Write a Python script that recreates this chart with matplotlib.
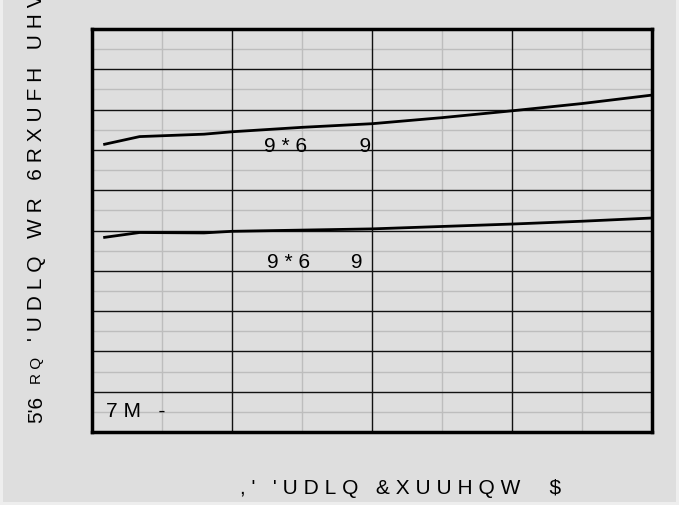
import matplotlib
matplotlib.use("Agg")
import matplotlib.pyplot as plt
from matplotlib.patches import Rectangle

# datos (eje x: 0..4, eje y: 0..10 divisiones)
x_curva = [0.09, 0.34, 0.8, 1.0, 1.5, 2.0, 2.5, 3.0, 3.5, 4.0]
y_superior = [7.14, 7.33, 7.39, 7.45, 7.56, 7.65, 7.80, 7.97, 8.15, 8.36]
y_inferior = [4.83, 4.95, 4.94, 4.98, 5.01, 5.04, 5.10, 5.16, 5.23, 5.31]

etiqueta_x = ",' 'UDLQ &XUUHQW  $"
etiqueta_y = ["5'6", "RQ", "'UDLQ WR 6RXUFH UHV"]
texto_sup = "9*6    9"
texto_inf = "9*6   9"
texto_tj = "7M -"

FONDO = "#dedede"
TRACK = "\u2009\u200a"   # espaciado entre letras
FAM = ["Liberation Sans", "DejaVu Sans"]


def espaciado(s):
    return TRACK.join(s)


W, H = 679, 506
fig = plt.figure(figsize=(W / 100, H / 100), dpi=100)
fig.patch.set_facecolor("#eeeeee")
fig.patches.append(Rectangle((3 / W, 3 / H), 673 / W, 503 / H, transform=fig.transFigure,
                             facecolor=FONDO, edgecolor="none", zorder=-5))

ax = fig.add_axes([92 / W, (H - 433) / H, 560 / W, 403 / H])
ax.set_zorder(2)
ax.set_facecolor(FONDO)
ax.set_xlim(0, 4)
ax.set_ylim(0, 10)

# grilla
for i in range(1, 4):
    ax.axvline(i, color="#111111", lw=1.0, zorder=2)
for i in range(4):
    ax.axvline(i + 0.5, color="#bdbdbd", lw=1.0, zorder=1)
for j in range(1, 10):
    ax.axhline(j, color="#111111", lw=1.0, zorder=2)
for j in range(10):
    ax.axhline(j + 0.5, color="#bdbdbd", lw=1.0, zorder=1)

ax.plot(x_curva, y_superior, color="black", lw=2.0, zorder=3)
ax.plot(x_curva, y_inferior, color="black", lw=2.0, zorder=3)

ax.set_xticks([])
ax.set_yticks([])
for s in ax.spines.values():
    s.set_linewidth(2.5)
    s.set_color("black")
    s.set_zorder(4)


def px(xp, yp):
    # pixeles de la imagen -> fraccion de la figura
    return xp / W, (H - yp) / H


def d(xp, yp):
    # pixeles de la imagen -> datos
    return (xp - 92) / 140, (432.7 - yp) / 40.3


fs = 15
ax.text(*d(264, 152), espaciado(texto_sup), fontsize=fs, family=FAM, va="baseline", ha="left", zorder=5)
ax.text(*d(267, 268), espaciado(texto_inf), fontsize=fs, family=FAM, va="baseline", ha="left", zorder=5)
ax.text(*d(106, 417), espaciado(texto_tj), fontsize=fs, family=FAM, va="baseline", ha="left", zorder=5)

fig.text(*px(240, 494), espaciado(etiqueta_x), fontsize=fs, family=FAM, va="baseline", ha="left")

kw = dict(rotation=90, rotation_mode="anchor", ha="left", va="baseline", family=FAM)
fig.text(*px(42, 423), etiqueta_y[0], fontsize=fs, **kw)
fig.text(*px(41, 384), espaciado(etiqueta_y[1]), fontsize=11, **kw)
fig.text(*px(42, 341.5), espaciado(etiqueta_y[2]), fontsize=fs, **kw)

fig.savefig("out.png", dpi=100, facecolor=fig.get_facecolor())
